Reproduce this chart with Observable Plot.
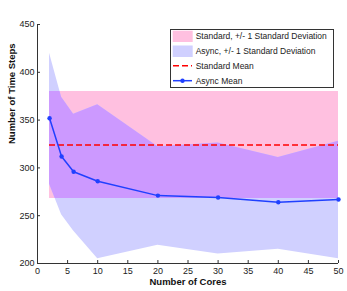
<!DOCTYPE html>
<html><head><meta charset="utf-8">
<script src="https://cdn.jsdelivr.net/npm/d3@7"></script>
<script src="https://cdn.jsdelivr.net/npm/@observablehq/plot@0.6"></script>
<style>
body{margin:0;background:#fff;}
#wrap{position:relative;width:347px;height:291px;font-family:"Liberation Sans",Arial,sans-serif;}
#legend{position:absolute;left:170px;top:29px;}
</style>
</head><body>
<div id="wrap"></div>
<script>
// Data
const cores = [2, 4, 6, 10, 20, 30, 40, 50];
const asyncMean = [352, 312, 296, 286, 271, 269, 264, 267];
const asyncLower = [283, 251, 234, 205, 219, 210, 215, 205];
const asyncUpper = [420, 374, 356, 366, 322, 326, 311, 328];
const standardMean = 324;
const standardSD = 56;
const xTicks = [0, 5, 10, 15, 20, 25, 30, 35, 40, 45, 50];
const yTicks = [200, 250, 300, 350, 400, 450];
const legendLabels = ["Standard, +/- 1 Standard Deviation", "Async, +/- 1 Standard Deviation", "Standard Mean", "Async Mean"];

const colors = {pink: "#ffc0e0", lav: "#d0d0ff", overlap: "#cc99ff", red: "#ff0000", blue: "#2040ff"};

const rows = cores.map((c, i) => ({x: c, mean: asyncMean[i], lo: asyncLower[i], hi: asyncUpper[i]}));

const plot = Plot.plot({
  width: 347, height: 291,
  marginLeft: 37, marginRight: 9, marginTop: 24, marginBottom: 28,
  style: {fontFamily: "Liberation Sans, Arial, sans-serif", fontSize: "9px", color: "#222", background: "#fff"},
  x: {domain: [0, 50], ticks: xTicks, label: null},
  y: {domain: [200, 450], ticks: yTicks, label: null},
  marks: [
    Plot.areaY(rows, {x: "x", y1: standardMean - standardSD, y2: standardMean + standardSD, fill: colors.pink}),
    Plot.areaY(rows, {x: "x", y1: "lo", y2: "hi", fill: colors.lav}),
    Plot.areaY(rows, {x: "x", y1: "lo", y2: "hi", fill: colors.overlap}),
    Plot.ruleY([standardMean], {x1: d3.min(cores), x2: d3.max(cores), stroke: colors.red, strokeWidth: 1.5, strokeDasharray: "6,3"}),
    Plot.line(rows, {x: "x", y: "mean", stroke: colors.blue, strokeWidth: 1.5}),
    Plot.dot(rows, {x: "x", y: "mean", r: 2.2, fill: colors.blue}),
    Plot.ruleX([0], {stroke: "#333"}),
    Plot.ruleY([200], {stroke: "#333"}),
    Plot.axisX({ticks: xTicks, tickSize: -3, tickPadding: 7, stroke: "#333", label: null}),
    Plot.axisY({ticks: yTicks, tickSize: -3, tickPadding: 6, stroke: "#333", label: null}),
    Plot.text(["Number of Cores"], {frameAnchor: "bottom", dy: 21, fontWeight: "bold", fontSize: 9.5, fill: "#111"}),
    Plot.text(["Number of Time Steps"], {frameAnchor: "left", dx: -26, rotate: -90, fontWeight: "bold", fontSize: 9.5, fill: "#111"})
  ]
});

// clip the overlap area to the standard band
const ys = plot.scale("y");
const svgNS = "http://www.w3.org/2000/svg";
const defs = document.createElementNS(svgNS, "defs");
const cp = document.createElementNS(svgNS, "clipPath");
cp.setAttribute("id", "bandclip");
const r = document.createElementNS(svgNS, "rect");
const yTop = ys.apply(standardMean + standardSD), yBot = ys.apply(standardMean - standardSD);
r.setAttribute("x", 0); r.setAttribute("width", 347);
r.setAttribute("y", yTop); r.setAttribute("height", yBot - yTop);
cp.appendChild(r); defs.appendChild(cp);
plot.insertBefore(defs, plot.firstChild);
const areas = plot.querySelectorAll('g[aria-label="area"]');
areas[2].setAttribute("clip-path", "url(#bandclip)");

const wrap = document.getElementById("wrap");
wrap.appendChild(plot);

// Legend
const lg = d3.select(wrap).append("svg").attr("id", "legend").attr("width", 164).attr("height", 59)
  .style("font-family", "Liberation Sans, Arial, sans-serif").style("font-size", "8.5px");
lg.append("rect").attr("x", 0.5).attr("y", 0.5).attr("width", 163).attr("height", 58).attr("fill", "#fff").attr("stroke", "#333");
const rowY = [7.3, 22.5, 36.7, 51.7];
lg.append("rect").attr("x", 2.7).attr("y", 1.7).attr("width", 20).attr("height", 11.3).attr("fill", colors.pink);
lg.append("rect").attr("x", 2.7).attr("y", 16.5).attr("width", 20).attr("height", 11.5).attr("fill", colors.lav);
lg.append("line").attr("x1", 3).attr("x2", 22).attr("y1", rowY[2]).attr("y2", rowY[2]).attr("stroke", colors.red).attr("stroke-width", 1.5).attr("stroke-dasharray", "6,3");
lg.append("line").attr("x1", 3).attr("x2", 22).attr("y1", rowY[3]).attr("y2", rowY[3]).attr("stroke", colors.blue).attr("stroke-width", 1.5);
lg.append("circle").attr("cx", 12.5).attr("cy", rowY[3]).attr("r", 2.2).attr("fill", colors.blue);
legendLabels.forEach((t, i) => {
  lg.append("text").attr("x", 25.7).attr("y", rowY[i]).attr("dy", "0.35em").attr("fill", "#222").text(t);
});
</script>
</body></html>
